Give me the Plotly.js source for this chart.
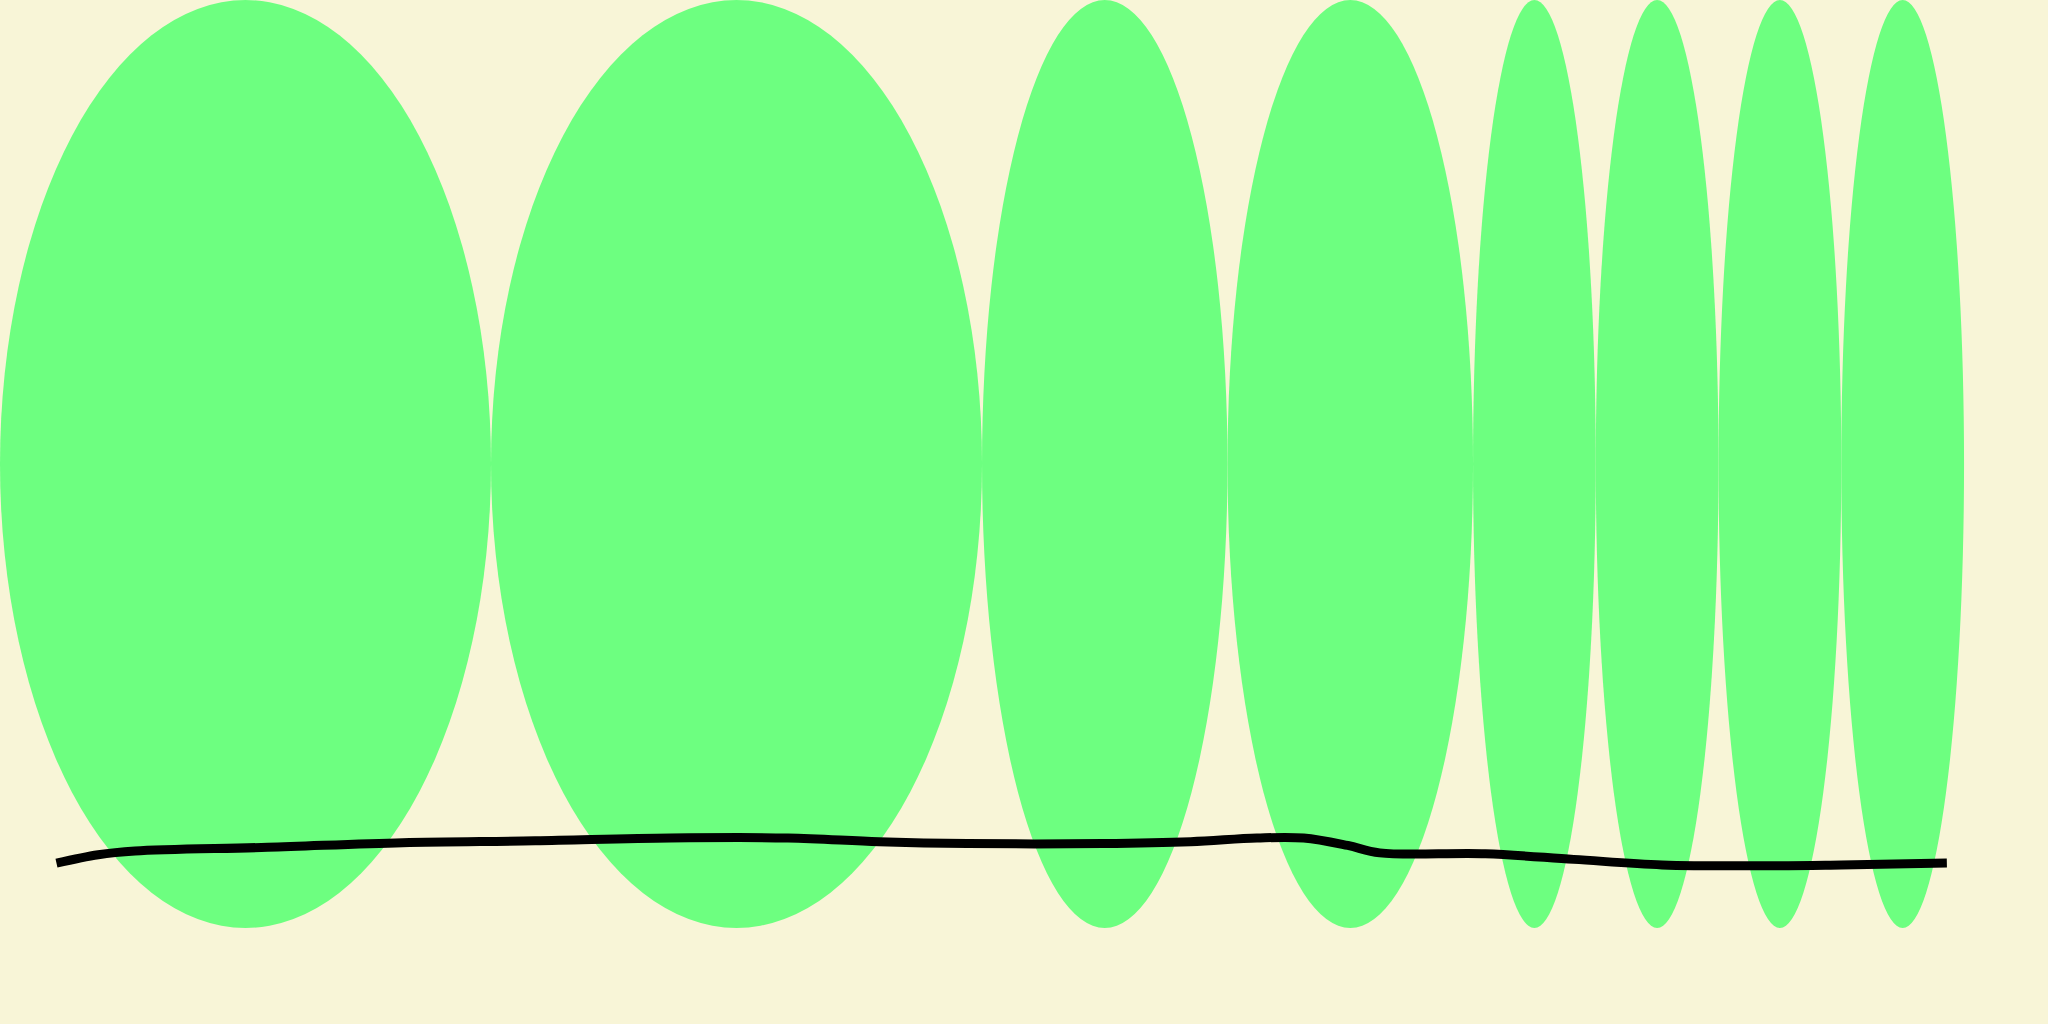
<!DOCTYPE html>
<html>
<head>
<meta charset="utf-8">
<script src="https://cdn.plot.ly/plotly-3.0.1.min.js"></script>
<style>
  html, body { margin: 0; padding: 0; background: #f8f5d7; }
  #chart { width: 2048px; height: 1024px; }
</style>
</head>
<body>
<div id="chart"></div>
<script>
// note lengths (in beats) - each one becomes an ellipse
var durations = [2, 2, 1, 1, 0.5, 0.5, 0.5, 0.5];

// the hand drawn stroke across the bottom
var strokeX = [0.23, 0.40, 0.55, 1.09, 1.64, 2.18, 2.73, 3.21, 3.58, 3.94, 4.49, 4.85, 5.12, 5.31, 5.49, 5.62, 6.05, 6.41, 6.77, 7.14, 7.50, 7.93];
var strokeY = [0.070, 0.079, 0.083, 0.087, 0.092, 0.094, 0.097, 0.097, 0.093, 0.091, 0.091, 0.093, 0.097, 0.097, 0.089, 0.081, 0.080, 0.074, 0.068, 0.067, 0.068, 0.070];

var shapes = [];
var start = 0;
for (var i = 0; i < durations.length; i++) {
  shapes.push({
    type: 'circle',
    xref: 'x', yref: 'y',
    x0: start, x1: start + durations[i],
    y0: 0, y1: 1,
    fillcolor: '#6dff80',
    line: {width: 0},
    layer: 'below'
  });
  start += durations[i];
}

var stroke = {
  x: strokeX,
  y: strokeY,
  mode: 'lines',
  type: 'scatter',
  line: {color: '#000000', width: 9, shape: 'spline'},
  hoverinfo: 'skip'
};

var layout = {
  width: 2048,
  height: 1024,
  margin: {l: 0, r: 0, t: 0, b: 0},
  paper_bgcolor: '#f8f5d7',
  plot_bgcolor: '#f8f5d7',
  showlegend: false,
  xaxis: {range: [0, 8.342], visible: false, fixedrange: true},
  yaxis: {range: [-0.1034, 1], visible: false, fixedrange: true},
  shapes: shapes
};

Plotly.newPlot('chart', [stroke], layout, {displayModeBar: false, staticPlot: true});
</script>
</body>
</html>
